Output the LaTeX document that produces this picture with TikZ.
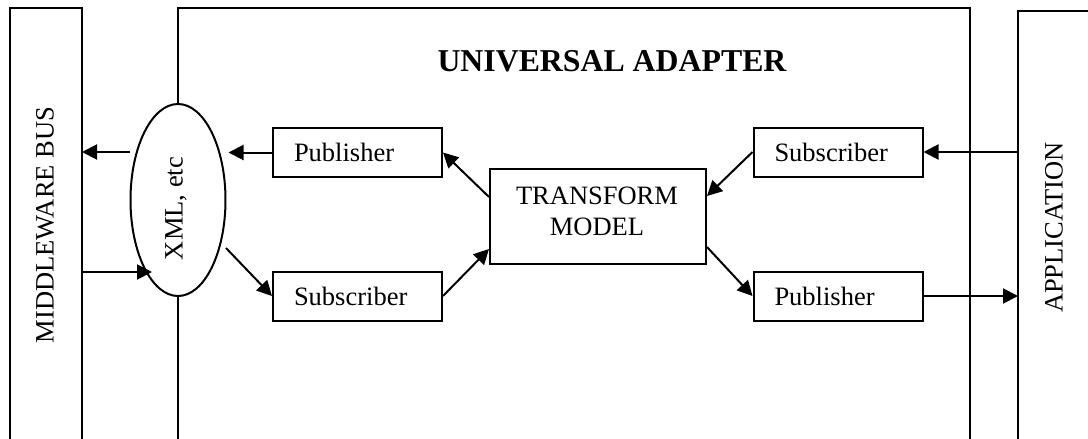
\documentclass[tikz,border=0pt]{standalone}
\usepackage{fontspec}
\setmainfont{Liberation Serif}
\usetikzlibrary{arrows.meta,shapes.geometric,calc}
\begin{document}
\begin{tikzpicture}[x=0.5pt,y=-0.5pt,
  frame/.style={line width=1pt},
  txt/.style={font=\fontsize{13.25}{15.5}\selectfont,inner sep=0pt},
  pbox/.style={draw,line width=1pt,minimum width=84.5pt,minimum height=24.5pt,
    inner ysep=0pt,inner xsep=10.5pt,text width=63.5pt,align=left,
    font=\fontsize{13.25}{15.5}\selectfont},
  arr/.style={line width=1pt,-{Triangle[length=7.5pt,width=7.5pt]}}]
\useasboundingbox (0,0) rectangle (1088,439);
% frames
\draw[frame] (10,439) -- (10,8) -- (82,8) -- (82,439);
\draw[frame] (178,439) -- (178,8) -- (970,8) -- (970,439);
\draw[frame] (1018,439) -- (1018,11) -- (1088,11);
% title
\node[font=\fontsize{15.9}{18}\selectfont\bfseries,inner sep=0pt] (title) at (612,61) {UNIVERSAL ADAPTER};
% vertical labels
\node[txt,rotate=90] (mwtext) at (45,225) {MIDDLEWARE BUS};
\node[txt,rotate=90] (apptext) at (1054,227.5) {APPLICATION};
% ellipse
\node[draw,ellipse,line width=1pt,minimum width=47.5pt,minimum height=96pt,inner sep=0pt,fill=white] (xml) at (178,200) {};
\node[txt,rotate=90] (xmltext) at (176,208.5) {XML, etc};
% boxes
\node[pbox] (pub1) at (357.5,152.5) {Publisher};
\node[pbox] (sub1) at (357.5,296) {Subscriber};
\node[pbox] (sub2) at (838,152) {Subscriber};
\node[pbox] (pub2) at (838,296) {Publisher};
\node[draw,line width=1pt,minimum width=108pt,minimum height=47.5pt,inner sep=0pt] (tf) at (598,216.5) {};
\node[txt,align=center] (tftext) at (597,211) {TRANSFORM\\MODEL};
% coordinates on frames
\coordinate (busA) at (82,152);
\coordinate (busB) at (82,272);
\coordinate (appA) at (1018,152);
\coordinate (appB) at (1018,296);
% connectors
\draw[arr] (xml.west |- busA) -- (busA);
\draw[arr] (pub1.west) -- ($(xml.east |- pub1.west)+(2,0)$);
\draw[arr] (busB) -- ($(xml.west |- busB)+(22.5,0)$);
\draw[arr] ($(xml.center)+(48,48)$) -- (sub1.west);
\draw[arr] ($(tf.north west)+(0,29)$) -- (pub1.east);
\draw[arr] (sub1.east) -- ($(tf.north west)+(0,81)$);
\draw[arr] (sub2.west) -- ($(tf.north east)+(0,28)$);
\draw[arr] ($(tf.north east)+(0,79)$) -- (pub2.west);
\draw[arr] (appA) -- (sub2.east);
\draw[arr] (pub2.east) -- (appB);
\end{tikzpicture}
\end{document}
